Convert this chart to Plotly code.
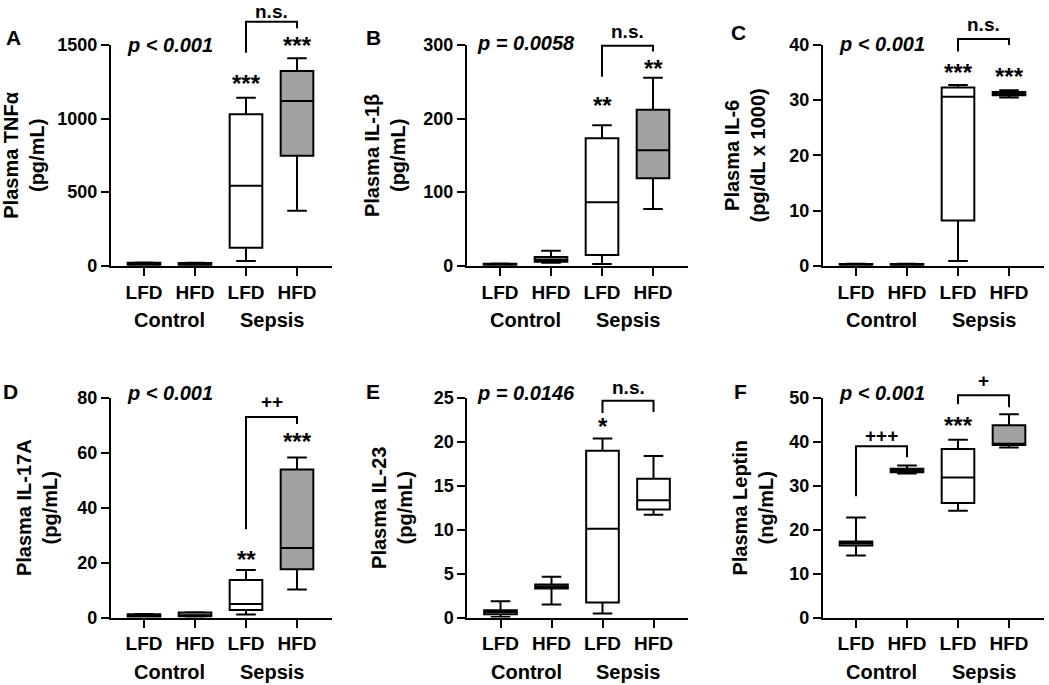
import plotly.graph_objects as go

# ---------------- data ----------------
groups = ["LFD", "HFD", "LFD", "HFD"]
group_pos = [0, 1, 2, 3]
conditions = ["Control", "Sepsis"]

# A: TNFa (pg/mL)
tnf_lower = [0, 0, 32, 374]
tnf_q1 = [0, 0, 122, 748]
tnf_median = [9, 8, 544, 1119]
tnf_q3 = [20, 18, 1029, 1323]
tnf_upper = [22, 20, 1142, 1410]

# B: IL-1b (pg/mL)
il1b_lower = [-2, 4, 2.3, 77]
il1b_q1 = [-1.5, 5.4, 14.5, 118.8]
il1b_median = [0.5, 8, 86.2, 156.9]
il1b_q3 = [2.5, 11.8, 173.2, 212]
il1b_upper = [3, 20.4, 190.8, 255.5]

# C: IL-6 (pg/dL x 1000)
il6_lower = [-0.3, -0.3, 0.85, 30.5]
il6_q1 = [-0.2, -0.2, 8.2, 30.9]
il6_median = [0, 0, 30.6, 31.2]
il6_q3 = [0.3, 0.3, 32.3, 31.5]
il6_upper = [0.35, 0.35, 32.75, 31.8]

# D: IL-17A (pg/mL)
il17_lower = [0.1, 0.2, 1.1, 10.2]
il17_q1 = [0.2, 0.4, 2.7, 17.6]
il17_median = [0.6, 0.8, 4.9, 25.3]
il17_q3 = [1.2, 1.8, 13.7, 53.9]
il17_upper = [1.3, 1.9, 17.3, 58.3]

# E: IL-23 (pg/mL)
il23_lower = [0.07, 1.48, 0.45, 11.7]
il23_q1 = [0.38, 3.3, 1.7, 12.3]
il23_median = [0.62, 3.5, 10.1, 13.35]
il23_q3 = [0.83, 3.75, 19.0, 15.8]
il23_upper = [1.86, 4.63, 20.4, 18.4]

# F: Leptin (ng/mL)
lep_lower = [14.1, 32.8, 24.3, 38.7]
lep_q1 = [16.4, 33.1, 26.1, 39.3]
lep_median = [16.9, 33.5, 31.9, 39.6]
lep_q3 = [17.3, 33.9, 38.4, 43.8]
lep_upper = [22.8, 34.6, 40.5, 46.3]

# significance marks: (group position, value, text)
tnf_stars = [(2, 1250, "***"), (3, 1511, "***")]
il1b_stars = [(2, 220, "**"), (3, 270.5, "**")]
il6_stars = [(2, 35.3, "***"), (3, 34.6, "***")]
il17_stars = [(2, 21.7, "**"), (3, 64.8, "***")]
il23_stars = [(2, 22.0, "*")]
lep_stars = [(2, 44.2, "***")]

# brackets: (x0, x1, left foot, top, right foot, label, label value)
tnf_brackets = [(2, 3, 1448, 1658, 1613, "n.s.", 1728)]
il1b_brackets = [(2, 3, 257, 299, 291, "n.s.", 318)]
il6_brackets = [(2, 3, 38.8, 41.1, 40.0, "n.s.", 43.8)]
il17_brackets = [(2, 3, 32.2, 73.1, 70.5, "++", 78.8)]
il23_brackets = [(2, 3, 23.3, 24.7, 23.4, "n.s.", 26.25)]
lep_brackets = [(0, 1, 27.6, 39.0, 36.5, "+++", 41.5), (2, 3, 48.6, 50.6, 47.9, "+", 54)]

p_values = ["p < 0.001", "p = 0.0058", "p < 0.001", "p < 0.001", "p = 0.0146", "p < 0.001"]
titles = ["Plasma TNFα<br>(pg/mL)", "Plasma IL-1β<br>(pg/mL)", "Plasma IL-6<br>(pg/dL x 1000)",
          "Plasma IL-17A<br>(pg/mL)", "Plasma IL-23<br>(pg/mL)", "Plasma Leptin<br>(ng/mL)"]
letters = ["A", "B", "C", "D", "E", "F"]
y_max = [1500, 300, 40, 80, 25, 50]
y_step = [500, 100, 10, 20, 5, 10]

WHITE = "white"
GRAY = "#a2a2a2"
fills = [[WHITE, GRAY, WHITE, GRAY], [WHITE, GRAY, WHITE, GRAY], [WHITE, GRAY, WHITE, GRAY],
         [WHITE, GRAY, WHITE, GRAY], [WHITE, GRAY, WHITE, WHITE], [WHITE, GRAY, WHITE, GRAY]]

panels = [
    (tnf_lower, tnf_q1, tnf_median, tnf_q3, tnf_upper, tnf_stars, tnf_brackets),
    (il1b_lower, il1b_q1, il1b_median, il1b_q3, il1b_upper, il1b_stars, il1b_brackets),
    (il6_lower, il6_q1, il6_median, il6_q3, il6_upper, il6_stars, il6_brackets),
    (il17_lower, il17_q1, il17_median, il17_q3, il17_upper, il17_stars, il17_brackets),
    (il23_lower, il23_q1, il23_median, il23_q3, il23_upper, il23_stars, il23_brackets),
    (lep_lower, lep_q1, lep_median, lep_q3, lep_upper, lep_stars, lep_brackets),
]

# ---------------- layout geometry ----------------
W, H = 1049, 685
FONT = "Liberation Sans, Arial, sans-serif"
X_RANGE = [-0.65, 3.68]
cat0_px = [144, 500, 856, 144, 500.5, 856]
spacing_px = 51
row_px = [(45, 265.7), (398, 617.5)]
title_standoff = [10, 12, 18, 14, 16, 10]
letter_px = [(13, 37), (373, 37), (738, 33), (10, 392), (373, 392), (740, 392)]
p_shift = [0, 2, 1, 5, 5, 5]

fig = go.Figure()
annotations = []
shapes = []


def xdom(x):
    return (x - X_RANGE[0]) / (X_RANGE[1] - X_RANGE[0])


for i, (lo, q1, med, q3, hi, stars, brackets) in enumerate(panels):
    n = i + 1
    sx = "" if n == 1 else str(n)
    xa, ya = "x" + sx, "y" + sx
    ymax = y_max[i]

    for g in range(4):
        fig.add_trace(go.Box(
            x=[group_pos[g]], q1=[q1[g]], median=[med[g]], q3=[q3[g]],
            lowerfence=[lo[g]], upperfence=[hi[g]],
            width=0.64, whiskerwidth=0.6, fillcolor=fills[i][g],
            line=dict(color="black", width=2), boxpoints=False,
            showlegend=False, hoverinfo="skip", xaxis=xa, yaxis=ya,
        ))

    left = cat0_px[i] + X_RANGE[0] * spacing_px
    right = cat0_px[i] + X_RANGE[1] * spacing_px
    top, bottom = row_px[i // 3]
    xaxis = dict(
        domain=[left / W, right / W], range=X_RANGE, anchor=ya, automargin=False,
        tickvals=group_pos, ticktext=groups, showline=True, linewidth=2, linecolor="black",
        ticks="outside", ticklen=8, tickwidth=2, tickcolor="black", showgrid=False, zeroline=False,
        tickfont=dict(family=FONT, size=19, color="black", weight="bold"), fixedrange=True,
    )
    yaxis = dict(
        domain=[1 - bottom / H, 1 - top / H], range=[0, ymax], anchor=xa, automargin=False,
        tickvals=list(range(0, ymax + 1, y_step[i])), showline=True, linewidth=2, linecolor="black",
        ticks="outside", ticklen=8, tickwidth=2, tickcolor="black", showgrid=False, zeroline=False,
        tickfont=dict(family=FONT, size=18, color="black", weight="bold"),
        title=dict(text=titles[i], standoff=title_standoff[i],
                   font=dict(family=FONT, size=20, color="black", weight="bold")),
        fixedrange=True,
    )
    fig.update_layout({"xaxis" + sx: xaxis, "yaxis" + sx: yaxis})

    # condition labels under the axis
    for k, cond in enumerate(conditions):
        annotations.append(dict(
            text=cond, x=xdom(0.5 + 2 * k), y=0, xref=xa + " domain", yref=ya + " domain",
            yshift=-54, showarrow=False, xanchor="center", yanchor="middle",
            font=dict(family=FONT, size=20, color="black", weight="bold")))

    # p value
    annotations.append(dict(
        text=p_values[i], x=xdom(0.5), y=1, xref=xa + " domain", yref=ya + " domain",
        yshift=p_shift[i], showarrow=False, xanchor="center", yanchor="middle",
        font=dict(family=FONT, size=20, color="black", weight="bold", style="italic")))

    # stars
    for (gx, v, txt) in stars:
        annotations.append(dict(
            text=txt, x=xdom(gx), y=v / ymax, xref=xa + " domain", yref=ya + " domain",
            yshift=-2, showarrow=False, xanchor="center", yanchor="middle",
            font=dict(family=FONT, size=24, color="black", weight="bold")))

    # brackets
    for (x0, x1, yl, yt, yr, lab, ylab) in brackets:
        path = "M {a},{b} L {a},{c} L {d},{c} L {d},{e}".format(
            a=xdom(x0), b=yl / ymax, c=yt / ymax, d=xdom(x1), e=yr / ymax)
        shapes.append(dict(type="path", path=path, xref=xa + " domain", yref=ya + " domain",
                           line=dict(color="black", width=2)))
        annotations.append(dict(
            text=lab, x=xdom((x0 + x1) / 2), y=ylab / ymax, xref=xa + " domain", yref=ya + " domain",
            showarrow=False, xanchor="center", yanchor="middle",
            font=dict(family=FONT, size=19, color="black", weight="bold")))

    # panel letter
    lx, ly = letter_px[i]
    annotations.append(dict(
        text=letters[i], x=lx / W, y=1 - ly / H, xref="paper", yref="paper",
        showarrow=False, xanchor="center", yanchor="middle",
        font=dict(family=FONT, size=21, color="black", weight="bold")))

fig.update_layout(
    width=W, height=H, autosize=False,
    margin=dict(l=0, r=0, t=0, b=0, pad=0, autoexpand=False),
    paper_bgcolor="white", plot_bgcolor="white", boxmode="overlay",
    annotations=annotations, shapes=shapes, showlegend=False,
    font=dict(family=FONT, color="black"),
)

fig.write_html(
    "out.html",
    config={"displayModeBar": False, "responsive": False},
    post_script="document.body.style.margin='0px';document.body.style.padding='0px';"
                "document.documentElement.style.overflow='hidden';",
)
